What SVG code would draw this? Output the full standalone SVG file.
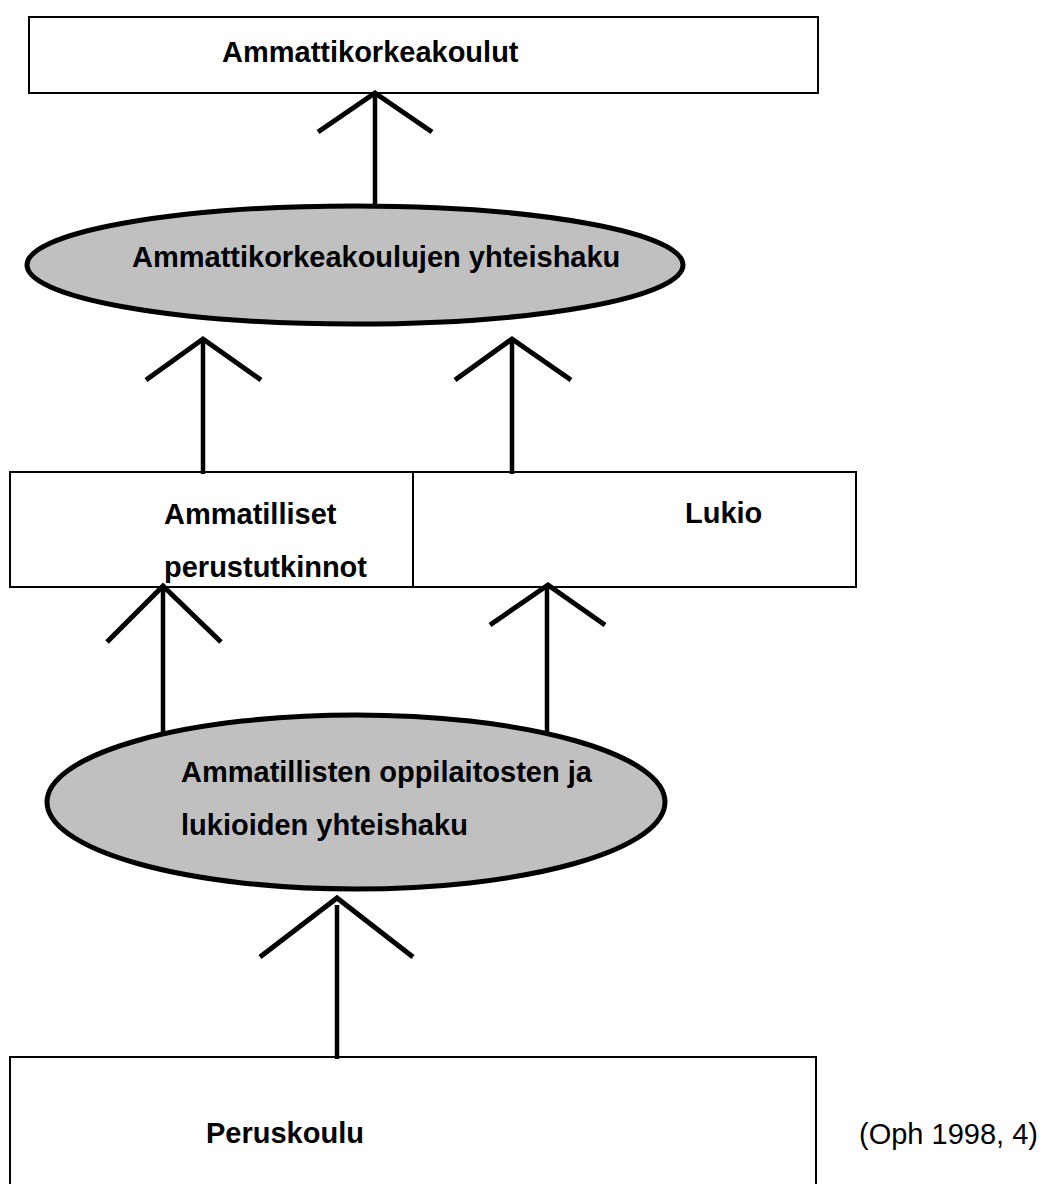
<svg xmlns="http://www.w3.org/2000/svg" width="1043" height="1184" viewBox="0 0 1043 1184">
<style>
  .box { fill: #ffffff; stroke: #000000; stroke-width: 2; }
  .oval { fill: #c0c0c0; stroke: #000000; stroke-width: 5; }
  .lbl { font-family: "Liberation Sans", Arial, sans-serif; font-size: 29px; font-weight: bold; fill: #000000; }
  .src { font-family: "Liberation Sans", Arial, sans-serif; font-size: 29px; fill: #000000; }
  .shaft { stroke: #000000; stroke-width: 4.5; fill: none; }
  .head { stroke: #000000; stroke-width: 5; fill: none; stroke-linejoin: miter; }
</style>
<rect width="1043" height="1184" fill="#ffffff"/>

<g id="ammattikorkeakoulut">
  <rect class="box" x="29" y="17" width="789" height="76"/>
  <text class="lbl" x="222" y="62">Ammattikorkeakoulut</text>
</g>

<g id="amk-yhteishaku">
  <ellipse class="oval" cx="355" cy="265" rx="328" ry="59"/>
  <text class="lbl" x="132" y="267">Ammattikorkeakoulujen yhteishaku</text>
</g>

<g id="ammatilliset">
  <rect class="box" x="10" y="472" width="403" height="115"/>
  <text class="lbl" x="164" y="524">Ammatilliset</text>
  <text class="lbl" x="164" y="577">perustutkinnot</text>
</g>

<g id="lukio">
  <rect class="box" x="413" y="472" width="443" height="115"/>
  <text class="lbl" x="685" y="523">Lukio</text>
</g>

<g id="toinen-aste-yhteishaku">
  <ellipse class="oval" cx="356" cy="802" rx="309" ry="87"/>
  <text class="lbl" x="181" y="782">Ammatillisten oppilaitosten ja</text>
  <text class="lbl" x="181" y="835">lukioiden yhteishaku</text>
</g>

<g id="peruskoulu">
  <rect class="box" x="10" y="1057" width="806" height="140"/>
  <text class="lbl" x="206" y="1143">Peruskoulu</text>
</g>

<g id="source">
  <text class="src" x="859" y="1144">(Oph 1998, 4)</text>
</g>

<g id="connectors">
  <line class="shaft" x1="375" y1="94" x2="375" y2="207"/>
  <polyline class="head" points="318,132 375,93 432,132"/>

  <line class="shaft" x1="203" y1="340" x2="203" y2="474"/>
  <polyline class="head" points="146,380 203,339 261,380"/>

  <line class="shaft" x1="512" y1="340" x2="512" y2="474"/>
  <polyline class="head" points="455,380 512,339 571,380"/>

  <line class="shaft" x1="163" y1="587" x2="163" y2="735"/>
  <polyline class="head" points="107,642 163,586 221,642"/>

  <line class="shaft" x1="547" y1="587" x2="547" y2="735"/>
  <polyline class="head" points="490,625 548,585 605,625"/>

  <line class="shaft" x1="337" y1="905" x2="337" y2="1059"/>
  <polyline class="head" points="260,957 337,898 413,957"/>
</g>
</svg>
